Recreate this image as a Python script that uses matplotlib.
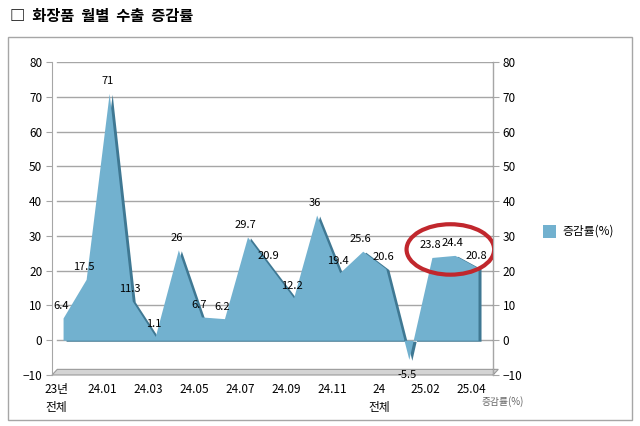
import matplotlib.pyplot as plt
import matplotlib.transforms as mtransforms
from matplotlib.patches import Ellipse, Rectangle, Polygon

plt.rcParams['font.family'] = ['Noto Sans CJK KR', 'DejaVu Sans']

# data
categories = ['23년\n전체', '23.12', '24.01', '24.02', '24.03', '24.04', '24.05', '24.06',
              '24.07', '24.08', '24.09', '24.10', '24.11', '24.12', '24\n전체',
              '25.01', '25.02', '25.03', '25.04']
values = [6.4, 17.5, 71, 11.3, 1.1, 26, 6.7, 6.2, 29.7, 20.9, 12.2, 36, 19.4,
          25.6, 20.6, -5.5, 23.8, 24.4, 20.8]
yticks = list(range(-10, 81, 10))
series_name = '증감률(%)'

fill_c = '#72B1CF'
side_c = '#3F7893'
grid_c = '#A6A6A6'

fig = plt.figure(figsize=(6.4, 4.26), dpi=100)
fig.text(10 / 640, 1 - 16 / 426, '□  화장품  월별  수출  증감률', fontsize=11,
         fontweight='bold', va='center', ha='left')
fig.patches.append(Rectangle((8 / 640, 1 - 420 / 426), 624 / 640, 383 / 426,
                             transform=fig.transFigure, fill=False,
                             edgecolor=grid_c, lw=1))

ax = fig.add_axes([52 / 640, 1 - 375 / 426, 441 / 640, 313 / 426])
x = list(range(len(values)))
ax.set_xlim(-0.48, 18.65)
ax.set_ylim(-10, 80)

for t in yticks:
    ax.axhline(t, color=grid_c, lw=1, zorder=0, xmin=0.012)

# darker side face for the 3d look
side = mtransforms.offset_copy(ax.transData, fig=fig, x=3, y=-1, units='dots')
ax.fill_between(x, 0, values, color=side_c, lw=0, transform=side, zorder=2)
ax.fill_between(x, 0, values, color=fill_c, lw=0, zorder=3)

for i, v in enumerate(values):
    dy = 12 if v >= 0 else -16
    ax.annotate(str(v), (i, v), xytext=(-2, dy), textcoords='offset pixels',
                ha='center', va='center', fontsize=8, zorder=5)

# floor
ax.add_patch(Polygon([(0, 0), (1, 0), (1.012, 0.018), (0.012, 0.018)],
                     closed=True, transform=ax.transAxes, facecolor='#D4D4D4',
                     edgecolor='#9A9A9A', lw=0.8, clip_on=False, zorder=1))

# highlight ring around the latest months
last = values[16:]
cx = sum(range(16, 19)) / 3 - 0.2
cy = sum(last) / len(last) + 3.1
ax.add_patch(Ellipse((cx, cy), 3.8, 14.5, fill=False, edgecolor='#C1272D',
                     lw=3, zorder=6))

ax.set_yticks(yticks)
ax.tick_params(axis='y', labelsize=8.5, length=4, color=grid_c, pad=3)
ax.set_xticks(x[::2])
ax.set_xticklabels(categories[::2], fontsize=8.5, linespacing=1.5)
ax.tick_params(axis='x', length=0, pad=6)
shift = mtransforms.ScaledTranslation(-7 / 100, 0, fig.dpi_scale_trans)
for lab in ax.get_xticklabels():
    lab.set_transform(lab.get_transform() + shift)
    lab.set_va('top')

for s in ['top', 'bottom']:
    ax.spines[s].set_visible(False)
ax.spines['left'].set_color(grid_c)

ax2 = ax.twinx()
ax2.set_ylim(-10, 80)
ax2.set_yticks(yticks)
ax2.tick_params(axis='y', labelsize=8.5, length=4, color=grid_c, pad=3)
for s in ['top', 'bottom', 'left']:
    ax2.spines[s].set_visible(False)
ax2.spines['right'].set_color(grid_c)

# depth-axis title at the front corner
fig.text(482 / 640, 1 - 402 / 426, series_name, fontsize=7, color='#666666',
         va='center', ha='left')

# legend
fig.patches.append(Rectangle((543 / 640, 1 - 238 / 426), 13 / 640, 13 / 426,
                             transform=fig.transFigure, facecolor=fill_c,
                             edgecolor='none'))
fig.text(562 / 640, 1 - 231 / 426, series_name, fontsize=8.5, va='center', ha='left')

fig.savefig('out.png', dpi=100)
